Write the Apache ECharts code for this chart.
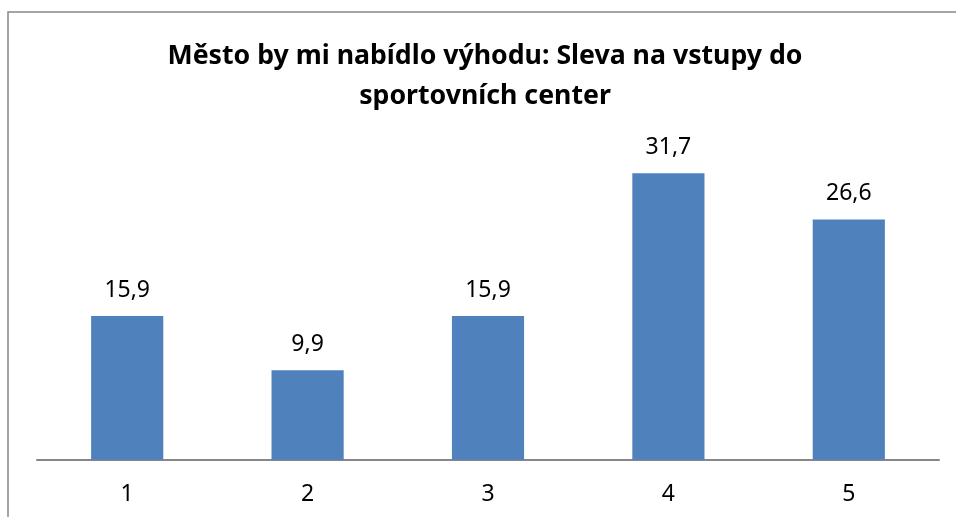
<!DOCTYPE html>
<html>
<head>
<meta charset="utf-8">
<script src="https://cdn.jsdelivr.net/npm/echarts@6/dist/echarts.min.js"></script>
<style>
  html, body { margin: 0; padding: 0; background: #fff; }
  #chart { width: 956px; height: 517px; }
</style>
</head>
<body>
<div id="chart"></div>
<script>
// data
const categories = ['1', '2', '3', '4', '5'];
const values = [15.9, 9.9, 15.9, 31.7, 26.6];
const titleText = 'Město by mi nabídlo výhodu: Sleva na vstupy do\nsportovních center';

const chart = echarts.init(document.getElementById('chart'));
const fmt = (v) => v.toFixed(1).replace('.', ',');

chart.setOption({
  animation: false,
  textStyle: { fontFamily: 'Noto Sans' },
  graphic: [
    {
      type: 'rect',
      shape: { x: 8, y: 12, width: 1200, height: 800 },
      style: { fill: 'none', stroke: '#878787', lineWidth: 1.5 },
      silent: true
    }
  ],
  title: {
    text: titleText,
    left: 480,
    top: 31,
    textAlign: 'center',
    textStyle: {
      fontFamily: 'Noto Sans',
      fontWeight: 'bold',
      fontSize: 26.7,
      lineHeight: 40,
      color: '#000'
    }
  },
  grid: { left: 37, right: 17, top: 143.5, bottom: 57.3, containLabel: false },
  xAxis: {
    type: 'category',
    data: categories,
    axisLine: { lineStyle: { color: '#878787', width: 2 } },
    axisTick: { show: false },
    axisLabel: { color: '#000', fontSize: 23, margin: 23 }
  },
  yAxis: {
    type: 'value',
    min: 0,
    max: 35,
    show: false,
    splitLine: { show: false }
  },
  series: [
    {
      type: 'bar',
      data: values,
      barCategoryGap: '60%',
      itemStyle: { color: '#4F81BD' },
      label: {
        show: true,
        position: 'top',
        distance: 14,
        color: '#000',
        fontSize: 23,
        formatter: (p) => fmt(p.value)
      }
    }
  ]
});
</script>
</body>
</html>
